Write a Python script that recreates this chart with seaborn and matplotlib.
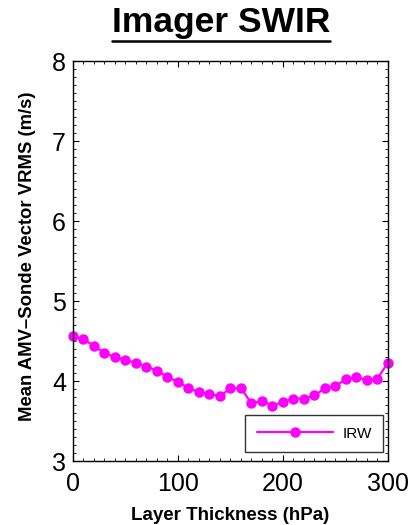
import matplotlib
matplotlib.use("Agg")
import matplotlib.pyplot as plt
from matplotlib.ticker import MultipleLocator
from matplotlib.lines import Line2D
import seaborn as sns
import pandas as pd

thickness = [0, 10, 20, 30, 40, 50, 60, 70, 80, 90, 100, 110, 120, 130, 140, 150,
             160, 170, 180, 190, 200, 210, 220, 230, 240, 250, 260, 270, 280, 290, 300]
vrms = [4.56, 4.52, 4.44, 4.35, 4.30, 4.26, 4.23, 4.18, 4.13, 4.05, 3.99, 3.91, 3.86,
        3.84, 3.81, 3.91, 3.91, 3.72, 3.75, 3.69, 3.74, 3.78, 3.78, 3.82, 3.91, 3.94,
        4.02, 4.05, 4.01, 4.03, 4.23]
series = ["IRW"] * len(thickness)
title = "Imager SWIR"
xlabel = "Layer Thickness (hPa)"
ylabel = "Mean AMV\u2013Sonde Vector VRMS (m/s)"

sns.set_style("ticks")
plt.rcParams['font.family'] = ['Liberation Sans', 'DejaVu Sans']
plt.rcParams['text.color'] = 'black'
plt.rcParams['axes.labelcolor'] = 'black'
plt.rcParams['xtick.color'] = 'black'
plt.rcParams['ytick.color'] = 'black'

df = pd.DataFrame({"thickness": thickness, "vrms": vrms, "series": series})

fig = plt.figure(figsize=(4.11, 5.25), dpi=100)
ax = fig.add_axes([0.1776, 0.1219, 0.7664, 0.7619])

sns.lineplot(data=df, x="thickness", y="vrms", hue="series", palette=["#ff00ff"],
             marker="o", markersize=7.5, markeredgewidth=0, linewidth=1.6, ax=ax)
for ln in ax.lines:
    ln.set_clip_on(False)

ax.set_xlim(0, 300)
ax.set_ylim(3, 8)
ax.xaxis.set_major_locator(MultipleLocator(100))
ax.xaxis.set_minor_locator(MultipleLocator(10))
ax.yaxis.set_major_locator(MultipleLocator(1))
ax.yaxis.set_minor_locator(MultipleLocator(0.1))
ax.tick_params(which="both", direction="in", top=True, right=True, colors="black",
               labelcolor="black")
ax.tick_params(which="major", length=4, width=0.8, labelsize=18)
ax.tick_params(axis="x", which="major", pad=8)
ax.tick_params(axis="y", which="major", pad=5)
ax.tick_params(which="minor", length=2, width=0.6)
for s in ax.spines.values():
    s.set_linewidth(1.0)
    s.set_color("black")

ax.set_xlabel(xlabel, fontsize=13.5, fontweight="bold", labelpad=8, color="black")
ax.set_ylabel(ylabel, fontsize=13.3, fontweight="bold", color="black")
ax.yaxis.set_label_coords(-0.118, 0.5125)

leg = ax.legend(loc="lower right", bbox_to_anchor=(1 - 5 / 315, 9 / 400), borderaxespad=0,
                fontsize=11, frameon=True, fancybox=False, handlelength=5.0,
                handletextpad=0.6, borderpad=0.75)
leg.get_frame().set_edgecolor("black")
leg.get_frame().set_linewidth(1.0)
for txt in leg.get_texts():
    txt.set_color("black")

t = fig.text(0.537, 0.939, title, fontsize=25.5, fontweight="bold", ha="center",
             va="baseline", color="black")
fig.canvas.draw()
bb = t.get_window_extent().transformed(fig.transFigure.inverted())
fig.add_artist(Line2D([bb.x0, bb.x1], [0.922, 0.922],
                      transform=fig.transFigure, color="black", linewidth=1.8))

fig.savefig("out.png", dpi=100)
